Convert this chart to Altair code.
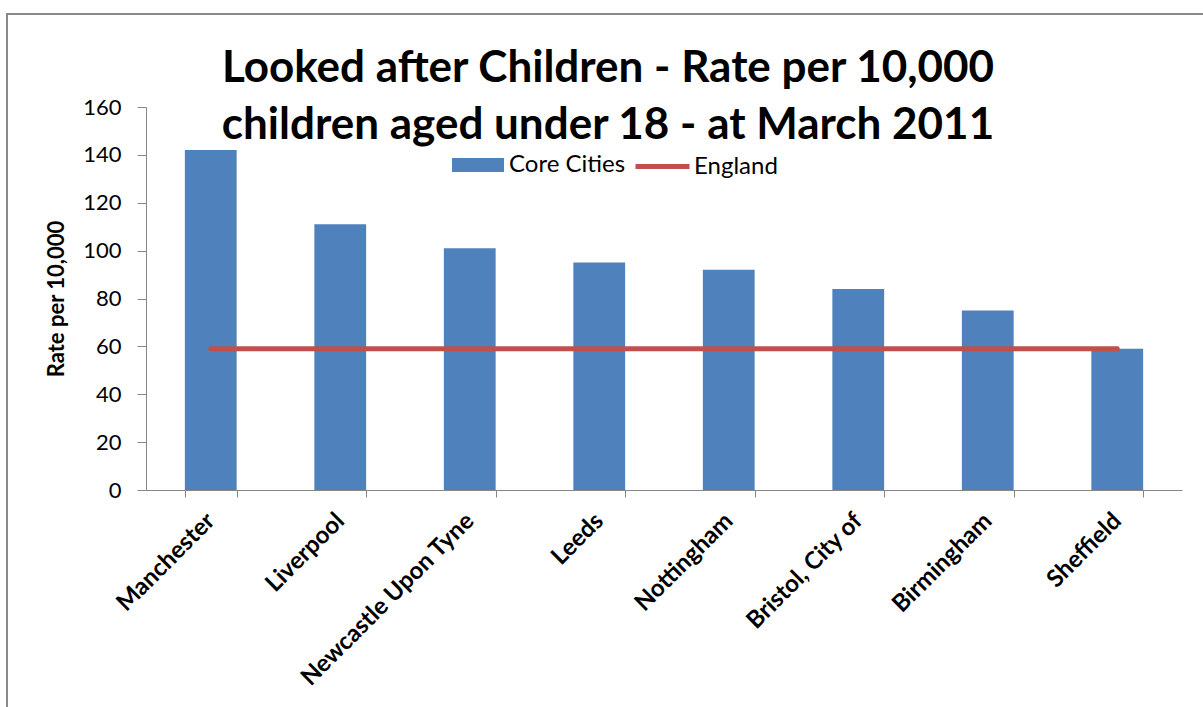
import altair as alt
import pandas as pd

cities = ["Manchester", "Liverpool", "Newcastle Upon Tyne", "Leeds",
          "Nottingham", "Bristol, City of", "Birmingham", "Sheffield"]
core_rates = [142, 111, 101, 95, 92, 84, 75, 59]
england_rates = [59, 59, 59, 59, 59, 59, 59, 59]
y_ticks = [0, 20, 40, 60, 80, 100, 120, 140, 160]
series_names = ["Core Cities", "England"]
title_lines = ["Looked after Children - Rate per 10,000",
               "children aged under 18 - at March 2011"]

df = pd.DataFrame({
    "City": cities,
    "Core": core_rates,
    "England": england_rates,
    "s1": [series_names[0]] * len(cities),
    "s2": [series_names[1]] * len(cities),
})

W, H = 1036, 383
FONT = "Lato"
GRAY = "#868686"
BLUE = "#4F81BD"
RED = "#C0504D"

x_enc = alt.X(
    "City:N", sort=cities,
    scale=alt.Scale(paddingInner=0.6, paddingOuter=0.3),
    axis=alt.Axis(title=None, labelAngle=-45, labelAlign="right", labelBaseline="middle",
                  labelFont=FONT, labelFontWeight="bold", labelFontSize=24,
                  labelColor="black", labelPadding=20, labelLimit=0,
                  tickBand="extent", tickSize=7, tickColor=GRAY, domainColor=GRAY),
)

y_scale = alt.Scale(domain=[0, 160], nice=False)
y_axis = alt.Axis(values=y_ticks, title="Rate per 10,000", titleFont=FONT,
                  titleFontSize=22, titleFontWeight="bold", titleColor="black",
                  titleX=-78, titleY=191.5, titleBaseline="bottom",
                  grid=False, labelFont=FONT, labelFontSize=22, labelColor="black",
                  labelPadding=16, tickSize=9, tickColor=GRAY, domainColor=GRAY)

border = alt.Chart(pd.DataFrame({"a": [0]})).mark_rect(
    fillOpacity=0, stroke="#898989", strokeWidth=2
).encode(
    x=alt.value(-139), x2=alt.value(1200), y=alt.value(-93), y2=alt.value(700)
)

bars = alt.Chart(df).mark_bar().encode(
    x=x_enc,
    y=alt.Y("Core:Q", scale=y_scale, axis=y_axis),
    fill=alt.Fill("s1:N", scale=alt.Scale(domain=[series_names[0]], range=[BLUE]),
                  legend=alt.Legend(title=None, orient="none", legendX=306, legendY=32,
                                    symbolType="M-1,-0.27H1V0.27H-1Z", symbolSize=2704,
                                    symbolStrokeWidth=0, labelFont=FONT, labelFontSize=24,
                                    labelColor="black", labelOffset=5, padding=0)),
)

line = alt.Chart(df).mark_line(strokeWidth=5, strokeCap="round").encode(
    x=x_enc,
    y=alt.Y("England:Q", scale=y_scale, axis=y_axis),
    stroke=alt.Stroke("s2:N", scale=alt.Scale(domain=[series_names[1]], range=[RED]),
                      legend=alt.Legend(title=None, orient="none", legendX=487, legendY=30,
                                        symbolType="stroke", symbolSize=2916,
                                        symbolStrokeWidth=5, labelFont=FONT,
                                        labelFontSize=24, labelColor="black",
                                        labelOffset=2, padding=0)),
)

chart = alt.layer(border, bars, line).properties(
    width=W, height=H,
    title=alt.TitleParams(text=title_lines, font=FONT, fontSize=44, fontWeight="bold",
                          color="black", anchor="middle", dx=-56, offset=-135,
                          lineHeight=57, frame="group"),
    padding={"left": 146, "top": 107, "right": 21, "bottom": 217},
    autosize=alt.AutoSizeParams(type="none"),
).configure_view(strokeWidth=0)

chart.save("out.html", embed_options={"renderer": "svg", "actions": False})
